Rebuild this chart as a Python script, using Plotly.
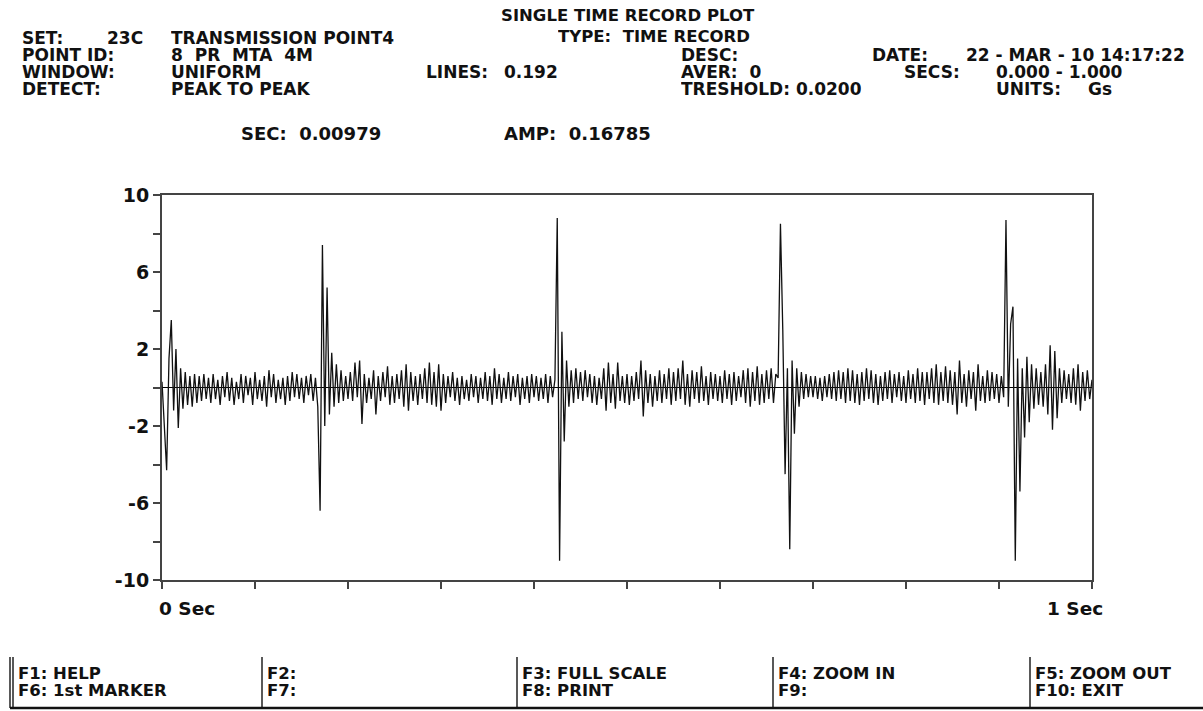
import plotly.graph_objects as go

# ---------------- data ----------------
t_start = 0.0          # s
t_step = 0.0025        # s between samples
amplitude_gs = [
    0.3, -2.0, -4.3, 1.5, 3.5, -1.2, 2.0, -2.1, 1.0, -1.1, 0.8, -0.9, 0.6, -1.0, 0.7, -0.8, 0.6, -0.7, 0.7, -0.6,
    0.5, -0.8, 0.7, -0.6, 0.4, -0.9, 0.6, -0.5, 0.8, -0.7, 0.5, -0.9, 0.3, -0.6, 0.7, -0.8, 0.6, -0.4, 0.5, -0.9,
    0.8, -0.6, 0.4, -0.7, 0.6, -1.0, 0.9, -0.5, 0.7, -0.8, 0.4, -0.6, 0.5, -0.9, 0.6, -0.7, 0.8, -0.5, 0.7, -0.6,
    0.5, -0.8, 0.6, -0.4, 0.7, -0.7, 0.5, -1.0, -6.4, 7.4, -2.0, 5.2, -1.4, 1.8, -1.0, 1.2, -0.8, 0.9, -0.7, 0.6,
    -0.6, 0.8, -0.7, 1.3, -0.5, 1.4, -1.9, 0.7, -0.8, 0.5, -0.6, 0.9, -1.4, 0.6, -0.7, 0.8, -0.5, 1.1, -0.9, 0.6,
    -0.8, 0.7, -0.6, 0.9, -1.0, 1.2, -1.2, 0.8, -0.7, 0.6, -0.9, 0.7, -0.6, 1.0, -0.8, 1.3, -0.9, 0.8, -1.0, 1.2,
    -1.2, 0.7, -0.8, 0.6, -0.5, 0.8, -0.7, 0.5, -0.9, 0.6, -0.6, 0.4, -0.7, 0.7, -0.5, 0.6, -0.8, 0.5, -0.6, 0.8,
    -0.7, 0.6, -0.9, 1.0, -0.6, 0.7, -0.8, 0.5, -0.6, 0.8, -0.7, 0.6, -0.5, 0.7, -0.9, 0.5, -0.6, 0.6, -0.8, 0.7,
    -0.5, 0.6, -0.7, 0.5, -0.6, 0.7, -0.8, 0.6, -0.5, 0.4, 8.8, -9.0, 2.9, -2.8, 1.4, -1.0, 0.9, -0.8, 1.0, -0.6,
    0.8, -0.7, 0.9, -0.5, 0.7, -0.8, 0.6, -0.9, 0.5, -0.6, 1.0, -1.2, 1.3, -0.8, 0.7, -1.1, 1.3, -0.7, 0.6, -0.8,
    0.7, -0.9, 0.6, -0.7, 0.8, -0.6, 1.4, -1.5, 0.9, -0.8, 0.7, -1.0, 0.6, -0.7, 0.9, -0.8, 0.7, -0.6, 1.0, -0.9,
    0.8, -0.7, 1.0, -0.6, 1.4, -0.9, 0.7, -1.0, 0.9, -0.6, 0.8, -0.8, 1.1, -0.7, 0.6, -0.9, 0.8, -0.6, 0.7, -0.7,
    0.6, -0.8, 0.9, -0.6, 0.7, -0.9, 0.8, -0.7, 0.6, -0.5, 0.9, -0.8, 1.0, -1.0, 0.8, -0.7, 1.1, -0.9, 0.7, -0.8,
    0.9, -0.6, 1.0, -0.8, 0.7, 0.5, 8.5, 3.0, -4.5, 1.0, -8.4, 1.4, -2.4, 1.0, -1.0, 0.8, -0.6, 0.7, -0.5, 0.6,
    -0.5, 0.6, -0.6, 0.5, -0.7, 0.6, -0.5, 0.7, -0.6, 0.8, -0.7, 0.9, -0.6, 0.8, -0.8, 1.0, -0.7, 0.9, -0.8, 0.7,
    -0.9, 0.8, -0.7, 1.0, -0.6, 0.9, -0.8, 0.7, -0.9, 0.6, -0.7, 0.8, -0.6, 0.9, -0.8, 0.7, -0.5, 0.8, -0.7, 0.6,
    -0.8, 0.9, -0.6, 0.7, -0.8, 1.0, -0.7, 0.8, -0.9, 0.8, -0.6, 1.0, -0.8, 1.2, -0.9, 0.8, -0.7, 1.1, -0.8, 0.9,
    -0.9, 0.8, -1.4, 1.4, -0.8, 0.7, -1.0, 0.9, -0.6, 0.8, -1.2, 1.2, -0.7, 0.6, -0.8, 0.9, -0.7, 0.8, -0.6, 0.7,
    -0.8, 0.6, -0.5, 8.7, -1.0, 3.3, 4.2, -9.0, 1.5, -5.4, 1.0, -2.6, 1.6, -1.8, 1.2, -1.1, 1.0, -0.9, 0.8, -1.0,
    1.2, -1.4, 2.2, -2.2, 1.9, -1.6, 1.0, -0.8, 0.9, -0.6, 0.7, -0.8, 1.0, -0.9, 1.2, -1.2, 0.8, -0.7, 0.9, -0.6,
    0.4,
]

y_tick_vals = [10, 8, 6, 4, 2, 0, -2, -4, -6, -8, -10]
y_tick_text = ["10", "", "6", "", "2", "", "-2", "", "-6", "", "-10"]
x_tick_vals = [0.0, 0.1, 0.2, 0.3, 0.4, 0.5, 0.6, 0.7, 0.8, 0.9, 1.0]
x_end_labels = ["0 Sec", "1 Sec"]

# header texts: (text, x px, y px, anchor, size)
HS = 17
header_items = [
    ("SINGLE TIME RECORD PLOT", 628, 15, "center", 16.5),
    ("TYPE:&nbsp;&nbsp;TIME RECORD", 751, 36, "right", 16.5),
    ("SET:", 21, 38, "left", HS),
    ("23C", 144, 38, "right", HS),
    ("TRANSMISSION POINT4", 170, 38, "left", HS),
    ("POINT ID:", 21, 55, "left", HS),
    ("8&nbsp;&nbsp;PR&nbsp;&nbsp;MTA&nbsp;&nbsp;4M", 170, 55, "left", HS),
    ("DESC:", 680, 55, "left", HS),
    ("DATE:", 871, 55, "left", HS),
    ("22 - MAR - 10 14:17:22", 1186, 55, "right", HS),
    ("WINDOW:", 21, 72, "left", HS),
    ("UNIFORM", 170, 72, "left", HS),
    ("LINES:", 425, 72, "left", HS),
    ("0.192", 503, 72, "left", HS),
    ("AVER:&nbsp;&nbsp;0", 680, 72, "left", HS),
    ("SECS:", 903, 72, "left", HS),
    ("0.000 - 1.000", 995, 72, "left", HS),
    ("DETECT:", 21, 89, "left", HS),
    ("PEAK TO PEAK", 170, 89, "left", HS),
    ("TRESHOLD: 0.0200", 680, 89, "left", HS),
    ("UNITS:", 995, 89, "left", HS),
    ("Gs", 1087, 89, "left", HS),
    ("SEC:&nbsp;&nbsp;0.00979", 382, 133, "right", 18),
    ("AMP:&nbsp;&nbsp;0.16785", 503, 133, "left", 18),
]

fkeys_top = ["F1: HELP", "F2:", "F3: FULL SCALE", "F4: ZOOM IN", "F5: ZOOM OUT"]
fkeys_bottom = ["F6: 1st MARKER", "F7:", "F8: PRINT", "F9:", "F10: EXIT"]
fkey_sep_px = [13, 262, 517, 773, 1030]

# ---------------- layout geometry ----------------
W, H = 1203, 711
PL, PR, PT, PB = 162, 1092, 195, 580
FONT = "DejaVu Sans"
ROW_BOX = 16


def xp(px):
    return (px - PL) / (PR - PL)


def yp(py):
    return (PB - py) / (PB - PT)


fig = go.Figure()
fig.add_trace(go.Scatter(
    x0=t_start, dx=t_step, y=amplitude_gs,
    mode="lines", line=dict(color="#111111", width=1.3),
    hoverinfo="skip", showlegend=False,
))

annotations = []
for text, x, y, anc, size in header_items:
    annotations.append(dict(
        text=f"<b>{text}</b>", x=xp(x), y=yp(y), xref="paper", yref="paper",
        xanchor=anc, yanchor="middle", showarrow=False, borderpad=0, height=ROW_BOX,
        font=dict(family=FONT, size=size, color="#111"),
    ))

# axis end labels
annotations.append(dict(text=f"<b>{x_end_labels[0]}</b>", x=x_tick_vals[0], y=yp(608),
                        xref="x", yref="paper", xanchor="left", yanchor="middle",
                        xshift=-5, showarrow=False, font=dict(family=FONT, size=18.5, color="#111")))
annotations.append(dict(text=f"<b>{x_end_labels[1]}</b>", x=x_tick_vals[-1], y=yp(608),
                        xref="x", yref="paper", xanchor="right", yanchor="middle",
                        xshift=13, showarrow=False, font=dict(family=FONT, size=18.5, color="#111")))

# function key bar
shapes = []
for i, sx in enumerate(fkey_sep_px):
    shapes.append(dict(type="line", xref="paper", yref="paper",
                       x0=xp(sx), x1=xp(sx), y0=yp(657), y1=yp(708),
                       line=dict(color="#222", width=1.5)))
    annotations.append(dict(text=f"<b>{fkeys_top[i]}</b>", x=xp(sx + 4), y=yp(673),
                            xref="paper", yref="paper", xanchor="left", yanchor="middle",
                            showarrow=False, borderpad=0, height=ROW_BOX,
                            font=dict(family=FONT, size=16.5, color="#111")))
    annotations.append(dict(text=f"<b>{fkeys_bottom[i]}</b>", x=xp(sx + 4), y=yp(690),
                            xref="paper", yref="paper", xanchor="left", yanchor="middle",
                            showarrow=False, borderpad=0, height=ROW_BOX,
                            font=dict(family=FONT, size=16.5, color="#111")))
shapes.append(dict(type="line", xref="paper", yref="paper",
                   x0=xp(10), x1=xp(10), y0=yp(657), y1=yp(708),
                   line=dict(color="#222", width=1.5)))
shapes.append(dict(type="line", xref="paper", yref="paper",
                   x0=xp(10), x1=xp(1203), y0=yp(708), y1=yp(708),
                   line=dict(color="#111", width=2.5)))

fig.update_layout(
    width=W, height=H,
    margin=dict(l=PL, r=W - PR, t=PT, b=H - PB, pad=0),
    paper_bgcolor="white", plot_bgcolor="white",
    font=dict(family=FONT, color="#111"),
    annotations=annotations, shapes=shapes,
    xaxis=dict(range=[0, 1], tickvals=x_tick_vals, ticktext=[""] * len(x_tick_vals),
               ticks="outside", ticklen=7, tickwidth=1.5, tickcolor="#444",
               showline=True, linecolor="#444", linewidth=2, mirror=True,
               showgrid=False, zeroline=False, fixedrange=True),
    yaxis=dict(range=[-10, 10], tickvals=y_tick_vals,
               ticktext=[f"<b>{t}</b>" if t else "" for t in y_tick_text],
               ticks="outside", ticklen=7, tickwidth=1.5, tickcolor="#444",
               tickfont=dict(family=FONT, size=19, color="#111"),
               showline=True, linecolor="#444", linewidth=2, mirror=True,
               showgrid=False, zeroline=True, zerolinecolor="#000", zerolinewidth=1,
               fixedrange=True),
)

fig.write_html("out.html", config={"displayModeBar": False},
               post_script="document.body.style.margin='0px';")
